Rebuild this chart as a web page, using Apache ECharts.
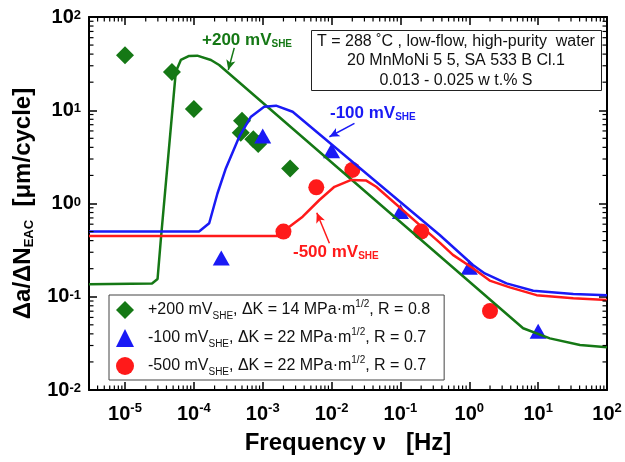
<!DOCTYPE html>
<html><head><meta charset="utf-8">
<script src="https://cdn.jsdelivr.net/npm/echarts@6/dist/echarts.min.js"></script>
<style>html,body{margin:0;padding:0;background:#fff}#c{width:625px;height:462px}</style>
</head><body><div id="c"></div>
<script>
// ---- measured data points ----
const p200Freq = [1e-5, 4.8e-5, 1e-4, 5e-4, 4.8e-4, 7.3e-4, 8.6e-4, 2.5e-3];
const p200Rate = [39, 25.7, 10.3, 7.7, 5.75, 4.9, 4.35, 2.37];
const m100Freq = [2.5e-4, 1e-3, 1e-2, 0.1, 1, 10];
const m100Rate = [0.26, 5.3, 3.67, 0.82, 0.207, 0.0426];
const m500Freq = [2e-3, 6e-3, 2e-2, 0.2, 2];
const m500Rate = [0.5, 1.49, 2.29, 0.5, 0.0703];
// ---- model curves ----
const p200CurveFreq = [3e-6, 2.47e-5, 2.97e-5, 3.31e-5, 5.47e-5, 6.47e-5, 8.54e-5, 1.12e-4, 1.77e-4, 2.33e-4, 6.05, 14.8, 40.5, 100];
const p200CurveRate = [0.136, 0.139, 0.155, 0.406, 25.9, 34.6, 38.2, 38.5, 34.6, 30.6, 0.0459, 0.0358, 0.0304, 0.0287];
const m100CurveFreq = [3e-6, 1.19e-4, 1.67e-4, 2.2e-4, 2.92e-4, 4.56e-4, 6.75e-4, 1.05e-3, 1.56e-3, 2.72e-3, 0.372, 1.13, 1.68, 3.47, 8.48, 32.4, 100];
const m100CurveRate = [0.5, 0.5, 0.614, 1.28, 2.39, 5.2, 8.53, 10.9, 11.2, 9.64, 0.459, 0.219, 0.178, 0.139, 0.116, 0.107, 0.104];
const m500CurveFreq = [3e-6, 1.86e-3, 2.44e-3, 3.8e-3, 6.65e-3, 1.1e-2, 1.93e-2, 3.19e-2, 4.45e-2, 0.372, 0.578, 1.13, 1.98, 3.88, 9.49, 32.4, 100];
const m500CurveRate = [0.448, 0.448, 0.564, 0.722, 1.09, 1.51, 1.79, 1.76, 1.51, 0.380, 0.281, 0.202, 0.149, 0.126, 0.104, 0.0962, 0.0923];
// ---- axes ----
const xRange = [3e-6, 100];
const yRange = [0.01, 100];
const xDecades = [-6, -5, -4, -3, -2, -1, 0, 1];
const yDecades = [-2, -1, 0, 1];
const minorMultipliers = [2, 3, 4, 5, 6, 7, 8, 9];

const GREEN = '#157815', BLUE = '#1a1af5', RED = '#ff1a1a';
const FONT = '"Liberation Sans", Arial, Helvetica, sans-serif';

const zip = (a, b) => a.map((v, i) => [v, b[i]]);

const minorTicks = [];
xDecades.forEach(d => minorMultipliers.forEach(m => {
  const v = m * Math.pow(10, d);
  if (v > xRange[0] * 1.0001 && v < xRange[1]) minorTicks.push([v, 1, 0]);
}));
yDecades.forEach(d => minorMultipliers.forEach(m => {
  const v = m * Math.pow(10, d);
  if (v > yRange[0] && v < yRange[1]) minorTicks.push([1e-3, v, 1]);
}));

function powLabel(v) {
  const e = Math.log10(v), r = Math.round(e);
  if (Math.abs(e - r) > 1e-6) return '';
  return '{b|10}{s|' + r + '}';
}

const legendText = {
  'p200': '{a|+200 mV}{sub|SHE}{a|, ΔK = 14 MPa·m}{sup|1/2}{a|, R = 0.8}',
  'm100': '{a|-100 mV}{sub|SHE}{a|, ΔK = 22 MPa·m}{sup|1/2}{a|, R = 0.7}',
  'm500': '{a|-500 mV}{sub|SHE}{a|, ΔK = 22 MPa·m}{sup|1/2}{a|, R = 0.7}'
};

const chart = echarts.init(document.getElementById('c'), null, {renderer: 'canvas'});

const baseAxis = {
  type: 'log', logBase: 10,
  axisLine: {show: true, onZero: false, lineStyle: {color: '#000', width: 2}},
  axisTick: {show: true, inside: true, length: 8, lineStyle: {color: '#000', width: 1.5}},
  splitLine: {show: false},
  minorTick: {show: false}
};

const option = {
  animation: false,
  backgroundColor: '#fff',
  grid: {left: 89, right: 18, top: 17, bottom: 72},
  xAxis: [
    Object.assign({}, baseAxis, {
      min: xRange[0], max: xRange[1], position: 'bottom',
      axisLabel: {formatter: powLabel, showMinLabel: false, margin: 12, color: '#000',
        rich: {b: {fontSize: 20, fontWeight: 'bold', fontFamily: FONT, lineHeight: 24, color: '#000'},
               s: {fontSize: 13, fontWeight: 'bold', fontFamily: FONT, verticalAlign: 'top', lineHeight: 1, color: '#000'}}},
      name: 'Frequency ν   [Hz]', nameLocation: 'middle', nameGap: 41,
      nameTextStyle: {fontSize: 24, fontWeight: 'bold', fontFamily: FONT, color: '#000'}
    }),
    Object.assign({}, baseAxis, {min: xRange[0], max: xRange[1], position: 'top', axisLabel: {show: false}})
  ],
  yAxis: [
    Object.assign({}, baseAxis, {
      min: yRange[0], max: yRange[1], position: 'left',
      axisLabel: {formatter: powLabel, margin: 8, color: '#000',
        rich: {b: {fontSize: 20, fontWeight: 'bold', fontFamily: FONT, lineHeight: 16, color: '#000'},
               s: {fontSize: 13, fontWeight: 'bold', fontFamily: FONT, verticalAlign: 'top', lineHeight: 1, color: '#000'}}},
      name: '{t|Δa/ΔN}{sub|EAC}{t|  [μm/cycle]}', nameLocation: 'middle', nameRotate: 90, nameGap: 49,
      nameTextStyle: {rich: {
        t: {fontSize: 24, fontWeight: 'bold', fontFamily: FONT, lineHeight: 26, color: '#000'},
        sub: {fontSize: 13, fontWeight: 'bold', fontFamily: FONT, lineHeight: 6, verticalAlign: 'bottom', color: '#000'}}}
    }),
    Object.assign({}, baseAxis, {min: yRange[0], max: yRange[1], position: 'right', axisLabel: {show: false}})
  ],
  legend: {
    show: true, data: ['p200', 'm100', 'm500'], orient: 'vertical',
    left: 109, top: 295, padding: [4, 14, 3, 7], itemGap: 6, itemWidth: 18, itemHeight: 18,
    borderColor: '#444', borderWidth: 1, backgroundColor: '#fff',
    selectedMode: false,
    formatter: name => legendText[name],
    textStyle: {padding: [0, 0, 0, 9], rich: {
      a: {fontSize: 16, fontFamily: FONT, color: '#111', lineHeight: 22},
      sub: {fontSize: 10, fontFamily: FONT, color: '#111', lineHeight: 8, verticalAlign: 'bottom'},
      sup: {fontSize: 10, fontFamily: FONT, color: '#111', lineHeight: 8, verticalAlign: 'top'}}}
  },
  graphic: [
    {type: 'rect', left: 311, top: 30, shape: {width: 290, height: 60}, style: {fill: '#fff', stroke: '#222', lineWidth: 1}, z: 10},
    {type: 'text', x: 456, y: 61, z: 11, style: {
      text: 'T = 288 ˚C , low-flow, high-purity  water\n20 MnMoNi 5 5, SA 533 B Cl.1\n0.013 - 0.025 w t.% S',
      align: 'center', verticalAlign: 'middle', fontSize: 16, lineHeight: 19.5, fontFamily: FONT, fill: '#111'}},
    {type: 'text', x: 202, y: 40, z: 11, style: {text: '{m|+200 mV}{s|SHE}', verticalAlign: 'middle', align: 'left',
      rich: {m: {fontSize: 17, fontWeight: 'bold', fontFamily: FONT, fill: GREEN, lineHeight: 18},
             s: {fontSize: 10, fontWeight: 'bold', fontFamily: FONT, fill: GREEN, lineHeight: 2, verticalAlign: 'bottom'}}}},
    {type: 'text', x: 330, y: 113, z: 11, style: {text: '{m|-100 mV}{s|SHE}', verticalAlign: 'middle', align: 'left',
      rich: {m: {fontSize: 17, fontWeight: 'bold', fontFamily: FONT, fill: BLUE, lineHeight: 18},
             s: {fontSize: 10, fontWeight: 'bold', fontFamily: FONT, fill: BLUE, lineHeight: 2, verticalAlign: 'bottom'}}}},
    {type: 'text', x: 293, y: 252, z: 11, style: {text: '{m|-500 mV}{s|SHE}', verticalAlign: 'middle', align: 'left',
      rich: {m: {fontSize: 17, fontWeight: 'bold', fontFamily: FONT, fill: RED, lineHeight: 18},
             s: {fontSize: 10, fontWeight: 'bold', fontFamily: FONT, fill: RED, lineHeight: 2, verticalAlign: 'bottom'}}}}
  ],
  series: [
    {name: 'p200', type: 'scatter', data: zip(p200Freq, p200Rate), symbol: 'diamond', symbolSize: 18,
      itemStyle: {color: GREEN, opacity: 1}, z: 3},
    {name: 'm100', type: 'scatter', data: zip(m100Freq, m100Rate), symbol: 'triangle', symbolSize: [17, 15],
      itemStyle: {color: BLUE, opacity: 1}, z: 3},
    {name: 'm500', type: 'scatter', data: zip(m500Freq, m500Rate), symbol: 'circle', symbolSize: 16,
      itemStyle: {color: RED, opacity: 1}, z: 3},
    {name: 'p200 model', type: 'line', data: zip(p200CurveFreq, p200CurveRate), showSymbol: false, symbol: 'none',
      lineStyle: {color: GREEN, width: 2.5}, z: 4,
      markLine: {silent: true, symbol: ['none', 'arrow'], symbolSize: [7, 10], label: {show: false},
        lineStyle: {color: GREEN, width: 1.5, type: 'solid'},
        data: [[{coord: [3.86e-4, 46.6]}, {coord: [3.16e-4, 27.0]}]]}},
    {name: 'm100 model', type: 'line', data: zip(m100CurveFreq, m100CurveRate), showSymbol: false, symbol: 'none',
      lineStyle: {color: BLUE, width: 2.5}, z: 4,
      markLine: {silent: true, symbol: ['none', 'arrow'], symbolSize: [7, 10], label: {show: false},
        lineStyle: {color: BLUE, width: 1.5, type: 'solid'},
        data: [[{coord: [0.0215, 7.24]}, {coord: [0.0093, 5.2]}]]}},
    {name: 'm500 model', type: 'line', data: zip(m500CurveFreq, m500CurveRate), showSymbol: false, symbol: 'none',
      lineStyle: {color: RED, width: 2.5}, z: 4,
      markLine: {silent: true, symbol: ['none', 'arrow'], symbolSize: [7, 10], label: {show: false},
        lineStyle: {color: RED, width: 1.5, type: 'solid'},
        data: [[{coord: [0.0093, 0.374]}, {coord: [0.0061, 0.796]}]]}},
    {name: 'minor ticks', type: 'custom', silent: true, z: 6, data: minorTicks,
      renderItem: function (params, api) {
        const cs = params.coordSys;
        const kind = api.value(2);
        const ls = {stroke: '#000', lineWidth: 1.2};
        if (kind === 0) {
          const x = api.coord([api.value(0), 1])[0];
          return {type: 'group', children: [
            {type: 'line', shape: {x1: x, y1: cs.y + cs.height, x2: x, y2: cs.y + cs.height - 4.5}, style: ls},
            {type: 'line', shape: {x1: x, y1: cs.y, x2: x, y2: cs.y + 4.5}, style: ls}]};
        } else {
          const y = api.coord([1, api.value(1)])[1];
          return {type: 'group', children: [
            {type: 'line', shape: {x1: cs.x, y1: y, x2: cs.x + 4.5, y2: y}, style: ls},
            {type: 'line', shape: {x1: cs.x + cs.width, y1: y, x2: cs.x + cs.width - 4.5, y2: y}, style: ls}]};
        }
      }}
  ]
};
chart.setOption(option);
</script></body></html>
